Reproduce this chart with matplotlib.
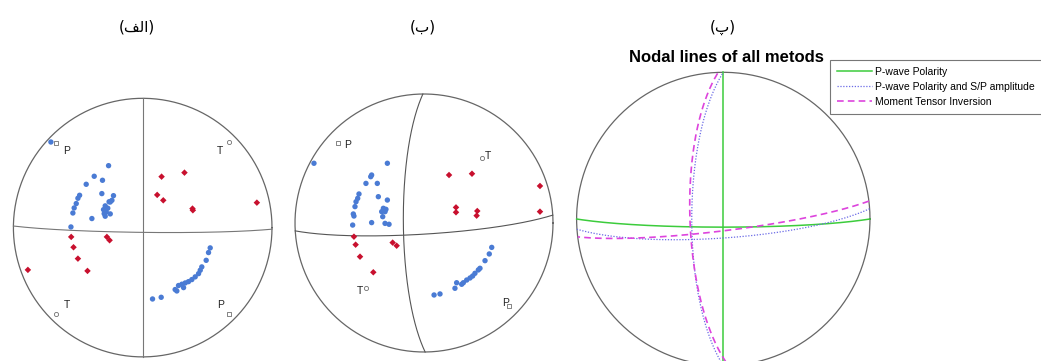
import numpy as np
import matplotlib
matplotlib.use("Agg")
import matplotlib.pyplot as plt
from matplotlib.lines import Line2D

# ---------------- data ----------------
# Panel (الف): projected station positions (unit circle, x=E, y=N)
a_comp_x = [-0.71, -0.264, -0.375, -0.311, -0.437, -0.488, -0.501, -0.316, -0.226, -0.514,
            -0.238, -0.251, -0.53, -0.54, -0.29, -0.303, -0.282, -0.298, -0.251, -0.393,
            -0.29, -0.555, -0.27, -0.26,
            0.522, 0.509, 0.491, 0.457, 0.445, 0.432, 0.406, 0.38, 0.354, 0.329,
            0.303, 0.277, 0.316, 0.251, 0.264, 0.143, 0.076]
a_comp_y = [0.662, 0.479, 0.397, 0.366, 0.335, 0.25, 0.227, 0.263, 0.247, 0.186,
            0.211, 0.198, 0.152, 0.113, 0.168, 0.139, 0.121, 0.108, 0.106, 0.07,
            0.088, 0.005, 0.15, 0.2,
            -0.157, -0.193, -0.253, -0.304, -0.33, -0.356, -0.381, -0.402, -0.418, -0.428,
            -0.438, -0.448, -0.464, -0.479, -0.49, -0.539, -0.552]
a_dil_x = [0.146, 0.323, 0.112, 0.159, 0.385, 0.388, 0.883, -0.553, -0.277, -0.256,
           -0.535, -0.501, -0.427, -0.888]
a_dil_y = [0.394, 0.425, 0.253, 0.211, 0.147, 0.134, 0.193, -0.072, -0.072, -0.098,
           -0.152, -0.24, -0.335, -0.327]
a_P_x, a_P_y = [-0.669, 0.664], [0.655, -0.67]
a_T_x, a_T_y = [0.664, -0.669], [0.662, -0.67]
a_planes = [(0.0, 90.0), (90.7, 87.0)]  # strike, dip

# Panel (ب)
b_comp_x = [-0.853, -0.284, -0.406, -0.413, -0.45, -0.362, -0.504, -0.514, -0.527, -0.354,
            -0.284, -0.535, -0.548, -0.543, -0.315, -0.295, -0.328, -0.302, -0.32, -0.406,
            -0.302, -0.271, -0.553,
            0.525, 0.506, 0.473, 0.434, 0.421, 0.395, 0.377, 0.357, 0.331, 0.305,
            0.292, 0.253, 0.24, 0.124, 0.078]
b_comp_y = [0.463, 0.463, 0.372, 0.359, 0.307, 0.307, 0.225, 0.191, 0.165, 0.204,
            0.178, 0.127, 0.07, 0.054, 0.114, 0.106, 0.088, 0.088, 0.049, 0.003,
            -0.003, -0.01, -0.016,
            -0.189, -0.24, -0.292, -0.351, -0.364, -0.39, -0.411, -0.426, -0.442, -0.463,
            -0.475, -0.463, -0.506, -0.55, -0.558]
b_dil_x = [0.194, 0.372, 0.899, 0.899, 0.248, 0.248, 0.413, 0.408, -0.543, -0.53,
           -0.496, -0.393, -0.243, -0.212]
b_dil_y = [0.372, 0.382, 0.287, 0.088, 0.121, 0.083, 0.093, 0.057, -0.106, -0.168,
           -0.261, -0.382, -0.152, -0.176]
b_P_x, b_P_y = [-0.664, 0.661], [0.623, -0.641]
b_T_x, b_T_y = [0.447, -0.45], [0.501, -0.506]
b_planes = [(179.5, 77.0), (86.5, 83.0)]

# Panel (پ): nodal planes of each method
methods = ["P-wave Polarity", "P-wave Polarity and S/P amplitude", "Moment Tensor Inversion"]
c_planes = {
    "P-wave Polarity": [(0.0, 90.0), (90.0, 85.5)],
    "P-wave Polarity and S/P amplitude": [(180.0, 72.5), (86.0, 79.5)],
    "Moment Tensor Inversion": [(178.0, 71.5), (83.0, 83.5)],
}
panel_labels = ["(ﻒﻟا)", "(ب)", "(پ)"]

# ---------------- helpers ----------------
def nodal_line(strike, dip, n=361):
    s = np.radians(strike)
    d = np.radians(dip)
    t = np.linspace(0, np.pi, n)
    sv = np.array([np.sin(s), np.cos(s), 0.0])
    dd = s + np.pi / 2
    dv = np.array([np.cos(d) * np.sin(dd), np.cos(d) * np.cos(dd), np.sin(d)])
    v = np.outer(np.cos(t), sv) + np.outer(np.sin(t), dv)
    plunge = np.arcsin(np.clip(v[:, 2], -1, 1))
    trend = np.arctan2(v[:, 0], v[:, 1])
    r = np.sqrt(2) * np.sin((np.pi / 2 - plunge) / 2)
    return r * np.sin(trend), r * np.cos(trend)

W, H = 1041, 361
fig = plt.figure(figsize=(W / 100, H / 100), dpi=100)
fig.patch.set_facecolor("white")

def make_ax(cx, cy, R):
    ax = fig.add_axes([(cx - R) / W, 1 - (cy + R) / H, 2 * R / W, 2 * R / H])
    ax.set_xlim(-1, 1)
    ax.set_ylim(-1, 1)
    ax.axis("off")
    th = np.linspace(0, 2 * np.pi, 400)
    ax.plot(np.cos(th), np.sin(th), color="#666666", lw=0.9, clip_on=False)
    return ax

blue = "#4a7bd4"
red = "#c8102e"

def beach(ax, planes, cx_, cy_, dx_, dy_, Px, Py, Tx, Ty, line_col, Plab, Tlab):
    for st, dp in planes:
        x, y = nodal_line(st, dp)
        ax.plot(x, y, color=line_col, lw=0.8, clip_on=False)
    ax.scatter(cx_, cy_, s=15, color=blue, edgecolors="none", zorder=3)
    ax.scatter(dx_, dy_, s=11, marker="D", color=red, edgecolors="none", zorder=3)
    ax.scatter(Px, Py, s=9, marker="s", facecolors="white", edgecolors="#707070", lw=0.6, zorder=3)
    ax.scatter(Tx, Ty, s=9, marker="o", facecolors="white", edgecolors="#707070", lw=0.6, zorder=3)
    for (x, y, lab, ox, oy) in Plab + Tlab:
        ax.text(x + ox, y + oy, lab, fontsize=7.5, family="Liberation Sans", color="#222222",
                ha="center", va="center")

ax1 = make_ax(142.7, 227.6, 129.3)
beach(ax1, a_planes, a_comp_x, a_comp_y, a_dil_x, a_dil_y, a_P_x, a_P_y, a_T_x, a_T_y, "#777777",
      [(a_P_x[0], a_P_y[0], "P", 0.08, -0.06), (a_P_x[1], a_P_y[1], "P", -0.06, 0.07)],
      [(a_T_x[0], a_T_y[0], "T", -0.07, -0.07), (a_T_x[1], a_T_y[1], "T", 0.08, 0.07)])

ax2 = make_ax(424, 223, 129)
beach(ax2, b_planes, b_comp_x, b_comp_y, b_dil_x, b_dil_y, b_P_x, b_P_y, b_T_x, b_T_y, "#555555",
      [(b_P_x[0], b_P_y[0], "P", 0.07, -0.02), (b_P_x[1], b_P_y[1], "P", -0.03, 0.02)],
      [(b_T_x[0], b_T_y[0], "T", 0.05, 0.02), (b_T_x[1], b_T_y[1], "T", -0.05, -0.02)])

ax3 = make_ax(723.3, 219, 146.7)
styles = {
    "P-wave Polarity": dict(color="#3ccc3c", lw=1.1, ls="-"),
    "P-wave Polarity and S/P amplitude": dict(color="#6a6ae6", lw=0.9, ls=(0, (1, 1.3))),
    "Moment Tensor Inversion": dict(color="#dd44dd", lw=1.2, ls=(0, (4, 2.5))),
}
handles = []
for m in methods:
    for st, dp in c_planes[m]:
        x, y = nodal_line(st, dp)
        ax3.plot(x, y, clip_on=False, **styles[m])
    handles.append(Line2D([], [], **styles[m]))

fig.text(726 / W, 1 - 57 / H, "Nodal lines of all metods", fontsize=12, fontweight="bold",
         family="Liberation Sans", ha="center", va="center")

leg = fig.legend(handles, methods, loc="upper left", bbox_to_anchor=(830 / W, 1 - 60 / H),
                 prop=dict(family="Liberation Sans", size=7.5), frameon=True, fancybox=False,
                 borderpad=0.65, handlelength=3.4, handletextpad=0.3, labelspacing=0.48,
                 borderaxespad=0)
leg.get_frame().set_edgecolor("#555555")
leg.get_frame().set_linewidth(0.8)

for xc, lab in zip([137, 423, 723], panel_labels):
    fig.text(xc / W, 1 - 27 / H, lab, fontsize=11, family="DejaVu Sans", ha="center", va="center")

fig.savefig("out.png", dpi=100, facecolor="white")
